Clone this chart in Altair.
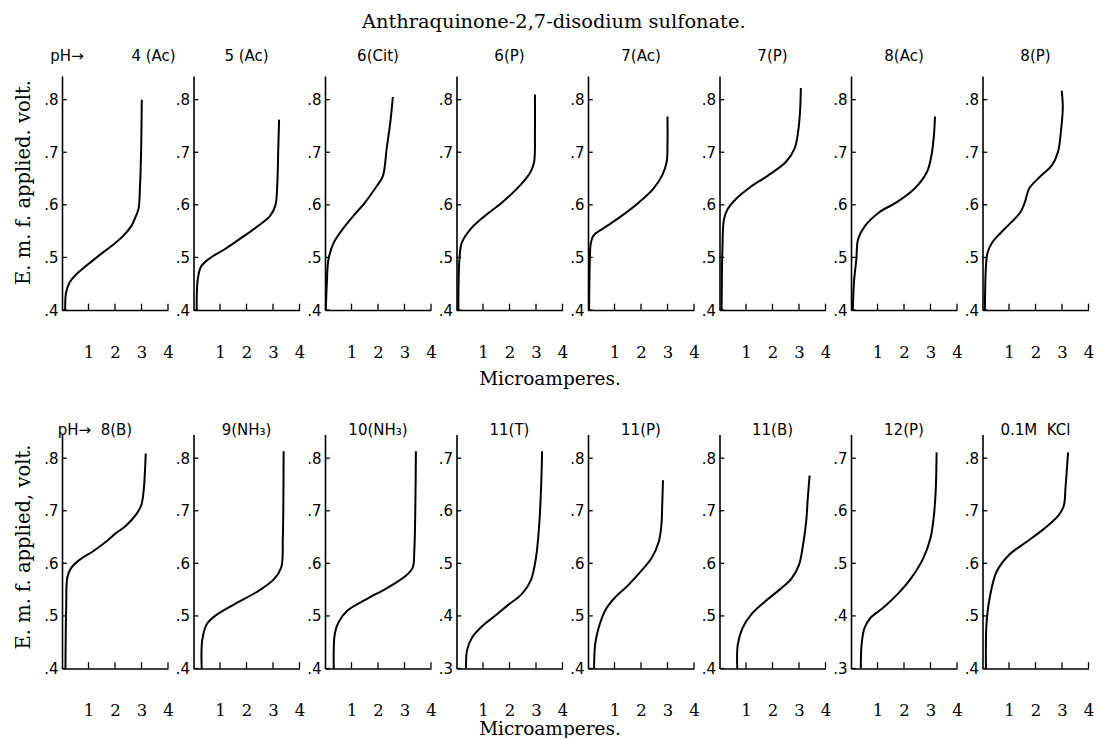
import altair as alt
import pandas as pd

MAIN_TITLE = "Anthraquinone-2,7-disodium sulfonate."
Y_TITLE_1 = "E. m. f. applied. volt."
Y_TITLE_2 = "E. m. f. applied, volt."
X_TITLE = "Microamperes."
X_TICKS = [1, 2, 3, 4]

NB = "\u00a0"
row1_names = ["pH\u2192" + NB * 10 + "4 (Ac)", "5 (Ac)", "6(Cit)", "6(P)", "7(Ac)", "7(P)", "8(Ac)", "8(P)"]
row2_names = ["pH\u2192" + NB * 2 + "8(B)", "9(NH\u2083)", "10(NH\u2083)", "11(T)", "11(P)", "11(B)", "12(P)", "0.1M" + NB * 2 + "KCl"]
row1_ymin = [0.4, 0.4, 0.4, 0.4, 0.4, 0.4, 0.4, 0.4]
row2_ymin = [0.4, 0.4, 0.4, 0.3, 0.4, 0.4, 0.3, 0.4]

# ---- Row 1 curves (current in microamperes, e.m.f. in volts) ----
r1_cur = [
    [0.12, 0.15, 0.27, 0.52, 0.89, 1.38, 1.88, 2.31, 2.62, 2.80, 2.89, 2.94, 2.99, 3.01],
    [0.12, 0.16, 0.29, 0.63, 1.16, 1.83, 2.36, 2.89, 3.09, 3.16, 3.20, 3.23],
    [0.03, 0.07, 0.13, 0.33, 0.67, 1.07, 1.47, 1.93, 2.18, 2.33, 2.47, 2.56],
    [0.07, 0.11, 0.20, 0.53, 1.07, 1.73, 2.40, 2.80, 2.93, 2.96, 2.96],
    [0.04, 0.07, 0.10, 0.20, 0.60, 1.27, 1.93, 2.47, 2.80, 2.97, 3.00, 3.00],
    [0.08, 0.11, 0.17, 0.31, 0.64, 1.17, 1.84, 2.51, 2.84, 2.97, 3.04, 3.07],
    [0.07, 0.11, 0.20, 0.27, 0.53, 1.07, 1.73, 2.40, 2.87, 3.04, 3.13, 3.17],
    [0.09, 0.13, 0.19, 0.36, 0.69, 1.09, 1.43, 1.60, 1.76, 2.16, 2.63, 2.85, 2.96, 3.03, 2.99],
]
r1_volt = [
    [0.400, 0.432, 0.451, 0.467, 0.483, 0.503, 0.522, 0.541, 0.560, 0.580, 0.593, 0.631, 0.714, 0.800],
    [0.400, 0.458, 0.483, 0.499, 0.515, 0.538, 0.557, 0.579, 0.599, 0.637, 0.708, 0.762],
    [0.400, 0.451, 0.496, 0.528, 0.554, 0.579, 0.602, 0.634, 0.654, 0.708, 0.759, 0.805],
    [0.400, 0.496, 0.528, 0.554, 0.579, 0.605, 0.637, 0.663, 0.682, 0.740, 0.810],
    [0.400, 0.496, 0.525, 0.541, 0.556, 0.579, 0.605, 0.631, 0.656, 0.682, 0.714, 0.768],
    [0.400, 0.515, 0.573, 0.592, 0.612, 0.634, 0.656, 0.682, 0.708, 0.740, 0.778, 0.822],
    [0.400, 0.451, 0.496, 0.535, 0.560, 0.586, 0.605, 0.631, 0.663, 0.695, 0.733, 0.768],
    [0.400, 0.483, 0.509, 0.528, 0.547, 0.567, 0.586, 0.605, 0.631, 0.653, 0.676, 0.701, 0.740, 0.785, 0.817],
]

# ---- Row 2 curves ----
r2_cur = [
    [0.13, 0.16, 0.20, 0.33, 0.67, 1.20, 1.73, 2.00, 2.40, 2.80, 3.00, 3.09, 3.13, 3.16],
    [0.31, 0.33, 0.51, 0.84, 1.57, 2.37, 3.04, 3.31, 3.37, 3.39, 3.40],
    [0.33, 0.37, 0.51, 0.84, 1.57, 2.37, 3.04, 3.31, 3.37, 3.41, 3.43],
    [0.36, 0.40, 0.60, 1.00, 1.40, 1.93, 2.47, 2.80, 3.00, 3.13, 3.20, 3.23],
    [0.23, 0.27, 0.40, 0.67, 1.00, 1.53, 2.00, 2.40, 2.67, 2.77, 2.80, 2.83],
    [0.67, 0.69, 0.87, 1.20, 1.73, 2.27, 2.73, 3.00, 3.13, 3.27, 3.33, 3.40],
    [0.37, 0.40, 0.51, 0.73, 1.20, 1.73, 2.27, 2.73, 3.00, 3.13, 3.20, 3.23],
    [0.13, 0.15, 0.27, 0.53, 1.00, 1.67, 2.33, 2.87, 3.07, 3.13, 3.23],
]
r2_volt = [
    [0.400, 0.523, 0.573, 0.590, 0.607, 0.624, 0.644, 0.656, 0.671, 0.693, 0.712, 0.743, 0.775, 0.809],
    [0.400, 0.454, 0.485, 0.501, 0.523, 0.545, 0.570, 0.592, 0.649, 0.712, 0.813],
    [0.400, 0.466, 0.488, 0.510, 0.532, 0.554, 0.576, 0.592, 0.624, 0.712, 0.813],
    [0.300, 0.335, 0.360, 0.382, 0.398, 0.420, 0.442, 0.467, 0.511, 0.580, 0.656, 0.713],
    [0.400, 0.446, 0.477, 0.512, 0.534, 0.559, 0.585, 0.610, 0.641, 0.673, 0.710, 0.758],
    [0.400, 0.446, 0.477, 0.503, 0.528, 0.550, 0.572, 0.597, 0.628, 0.679, 0.723, 0.767],
    [0.300, 0.346, 0.377, 0.396, 0.415, 0.440, 0.472, 0.510, 0.548, 0.592, 0.642, 0.711],
    [0.400, 0.484, 0.534, 0.584, 0.616, 0.641, 0.666, 0.691, 0.710, 0.742, 0.811],
]

SERIF = "DejaVu Serif"
SANS = "DejaVu Sans"
PW, PH = 106, 234
SPAN = 0.445


def make_panel(name, cur, volt, ymin, ytitle=None, ytitle_y=106, xtitle=None,
               xtitle_y=68, title_offset=12, title_dx=0):
    ymax = ymin + SPAN
    df = pd.DataFrame({"cur": cur, "volt": volt, "o": list(range(len(cur)))})
    yvals = [round(ymin + 0.1 * k, 1) for k in range(5)]
    xs = alt.Scale(domain=[0, 4], nice=False, zero=False)
    ys = alt.Scale(domain=[ymin, ymax], nice=False, zero=False)

    xaxis_kw = dict(values=X_TICKS, ticks=False, grid=False, labelPadding=34,
                    labelFont=SERIF, labelFontSize=16.5, labelColor="black",
                    domainColor="black", domainWidth=1.6, labelFlush=False,
                    labelOverlap=False, labelBound=False)
    if xtitle:
        xaxis_kw.update(title=xtitle, titleX=93, titleY=xtitle_y, titleFont=SERIF,
                        titleFontSize=18.5, titleFontWeight="normal", titleColor="black",
                        titleBaseline="middle", titleAlign="center")
    else:
        xaxis_kw.update(title="")
    yaxis_kw = dict(values=yvals, ticks=False, grid=False, labelPadding=4,
                    labelFont=SANS, labelFontSize=15, labelColor="black",
                    domainColor="black", domainWidth=1.6, labelFlush=False,
                    labelOverlap=False, labelBound=False,
                    labelExpr="replace(format(datum.value, '.1f'), '0.', '.')")
    if ytitle:
        yaxis_kw.update(title=ytitle, titleFont=SERIF, titleFontSize=19.5,
                        titleFontWeight="normal", titleColor="black", titlePadding=10,
                        titleY=ytitle_y)
    else:
        yaxis_kw.update(title="")

    X = alt.X("cur:Q", scale=xs, axis=alt.Axis(**xaxis_kw))
    Y = alt.Y("volt:Q", scale=ys, axis=alt.Axis(**yaxis_kw))

    line = alt.Chart(df).mark_line(color="black", strokeWidth=2,
                                   interpolate="catmull-rom").encode(
        x=X, y=Y, order="o:Q",
    )
    xt = pd.DataFrame({"cur": X_TICKS, "volt": [ymin] * 4, "volt2": [ymin + 0.012] * 4})
    yt = pd.DataFrame({"cur": [0.0] * 5, "cur2": [0.18] * 5, "volt": yvals})
    xticks = alt.Chart(xt).mark_rule(color="black", strokeWidth=1.3).encode(
        x=X, y=Y, y2="volt2:Q")
    yticks = alt.Chart(yt).mark_rule(color="black", strokeWidth=1.3).encode(
        x=X, x2="cur2:Q", y=Y)
    return alt.layer(line, xticks, yticks).properties(
        width=PW, height=PH,
        title=alt.TitleParams(name, font=SANS, fontSize=15, fontWeight="normal",
                              color="black", anchor="middle", offset=title_offset,
                              dx=title_dx),
    )


row1 = []
for k in range(8):
    row1.append(make_panel(row1_names[k], r1_cur[k], r1_volt[k], row1_ymin[k],
                           ytitle=Y_TITLE_1 if k == 0 else None, ytitle_y=106,
                           xtitle=X_TITLE if k == 3 else None, xtitle_y=68,
                           title_offset=12, title_dx=-2 if k == 0 else 0))
row2 = []
for k in range(8):
    row2.append(make_panel(row2_names[k], r2_cur[k], r2_volt[k], row2_ymin[k],
                           ytitle=Y_TITLE_2 if k == 0 else None, ytitle_y=112,
                           xtitle=X_TITLE if k == 3 else None, xtitle_y=60,
                           title_offset=-3, title_dx=-20 if k == 0 else 0))

chart = alt.vconcat(
    alt.hconcat(*row1, spacing=25.5, bounds="flush"),
    alt.hconcat(*row2, spacing=25.5, bounds="flush"),
    spacing=358.5, bounds="flush",
    title=alt.TitleParams(MAIN_TITLE, font=SERIF, fontSize=19.4, fontWeight="normal",
                          color="black", anchor="middle", offset=16.2),
).properties(
    padding={"left": 5, "top": 4, "right": 0, "bottom": 0},
    background="white",
).configure_view(stroke=None)

chart.save("out.html", embed_options={"renderer": "svg", "actions": False})
